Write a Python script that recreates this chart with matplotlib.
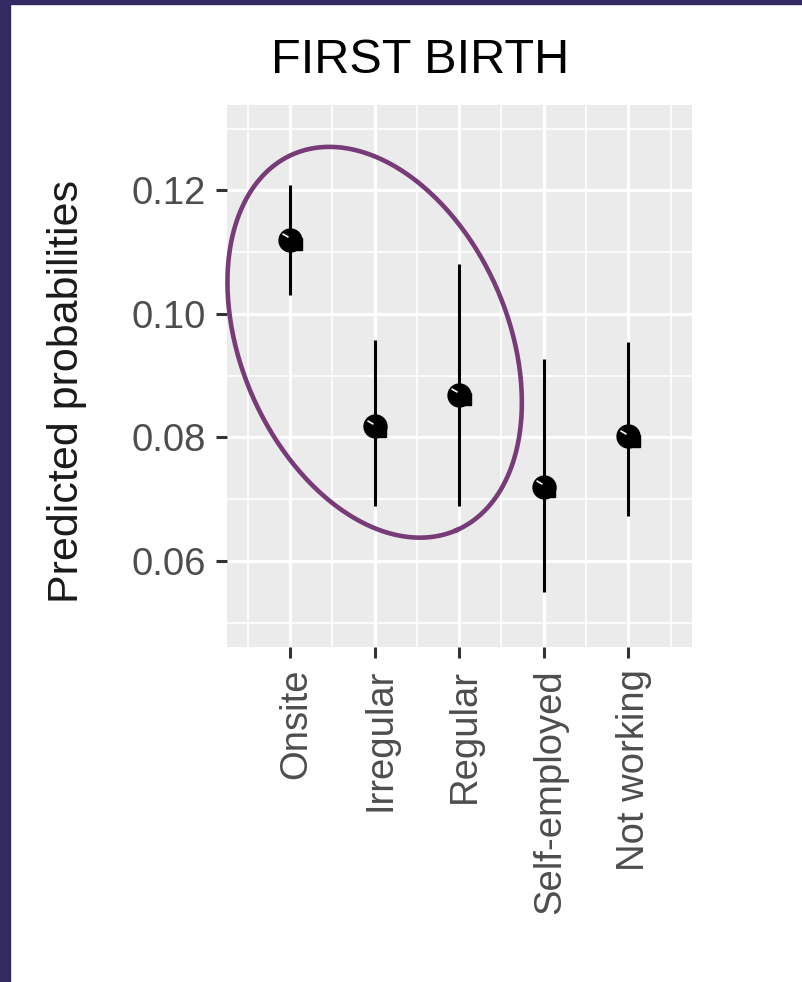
import numpy as np
import matplotlib
matplotlib.use('Agg')
import matplotlib.pyplot as plt
from matplotlib.patches import Rectangle
from matplotlib.transforms import ScaledTranslation

plt.rcParams['font.family'] = ['Liberation Sans', 'DejaVu Sans']

# predicted probabilities of a first birth by employment type
categories = ['Onsite', 'Irregular', 'Regular', 'Self-employed', 'Not working']
prob = [0.1120, 0.0818, 0.0869, 0.0720, 0.0802]
lower = [0.1030, 0.0688, 0.0688, 0.0549, 0.0672]
upper = [0.1209, 0.0958, 0.1081, 0.0927, 0.0954]

y_major = [0.06, 0.08, 0.10, 0.12]
y_minor = [0.05, 0.07, 0.09, 0.11, 0.13]

# ring drawn round the first three groups
ring_centre = (2.0, 0.0954)
ring_axes_px = (205.0, 133.5)
ring_tilt = -66.5

W, H = 802, 982
fig = plt.figure(figsize=(W / 100, H / 100), dpi=100)
fig.patch.set_facecolor('white')

# slide frame
frame = '#332a63'
fig.patches.append(Rectangle((0, 0), 10 / W, 1, transform=fig.transFigure,
                             color=frame, zorder=0))
fig.patches.append(Rectangle((0, 1 - 4 / H), 1, 4 / H, transform=fig.transFigure,
                             color=frame, zorder=0))

left, right, top, bottom = 226.7, 691.7, 104.6, 646.6
ax = fig.add_axes([left / W, 1 - bottom / H, (right - left) / W, (bottom - top) / H])
ax.set_facecolor('#ebebeb')
for s in ax.spines.values():
    s.set_visible(False)

x = np.arange(1, len(categories) + 1)
ax.set_xlim(0.25, 5.75)
ax.set_ylim(0.0461, 0.1339)

ax.set_xticks(x)
ax.set_xticks(np.r_[0.5, x + 0.5], minor=True)
ax.set_xticklabels(categories, rotation=90, ha='center', va='top')
ax.set_yticks(y_major)
ax.set_yticks(y_minor, minor=True)
ax.set_yticklabels(['%.2f' % v for v in y_major])

ax.set_axisbelow(True)
ax.grid(which='major', color='white', lw=2.3)
ax.grid(which='minor', color='white', lw=1.2)
ax.tick_params(which='major', length=8, width=2.2, color='#333333',
               labelcolor='#4d4d4d', labelsize=27.5)
ax.tick_params(axis='y', pad=7)
ax.tick_params(axis='x', pad=8)
ax.tick_params(which='minor', length=0)

# rotated labels sit a little right of their ticks
shift = ScaledTranslation(0.06, 0, fig.dpi_scale_trans)
for lab in ax.get_xticklabels():
    lab.set_transform(lab.get_transform() + shift)

ax.vlines(x, lower, upper, color='black', lw=2.2, zorder=3)
ax.plot(x, prob, 'o', color='black', ms=16.5, zorder=4)
nub = ax.transData + ScaledTranslation(0.055, -0.045, fig.dpi_scale_trans)
ax.plot(x, prob, 's', color='black', ms=8, transform=nub, zorder=4)
# small glint on each point
glint = ax.transData + ScaledTranslation(-0.05, 0.045, fig.dpi_scale_trans)
ax.plot(x, prob, marker=(2, 0, 60), color='white', ms=5, mew=1.2,
        ls='none', transform=glint, zorder=5)

# ellipse given in pixels, converted to data units
px_x = ax.bbox.width / (5.75 - 0.25)
px_y = ax.bbox.height / (0.1339 - 0.0461)
t = np.linspace(0, 2 * np.pi, 400)
phi = np.radians(ring_tilt)
a, b = ring_axes_px
dx = a * np.cos(t) * np.cos(phi) - b * np.sin(t) * np.sin(phi)
dy = a * np.cos(t) * np.sin(phi) + b * np.sin(t) * np.cos(phi)
ax.plot(ring_centre[0] + dx / px_x, ring_centre[1] + dy / px_y,
        color='#773b78', lw=3.3, zorder=6, clip_on=False)

fig.text(420 / W, 1 - 73 / H, 'FIRST BIRTH', ha='center', va='baseline',
         fontsize=35, color='black')
fig.text(78 / W, 1 - 391.5 / H, 'Predicted probabilities', rotation=90,
         rotation_mode='anchor', ha='center', va='baseline', fontsize=31,
         color='#1a1a1a')

fig.savefig('out.png', dpi=100)
